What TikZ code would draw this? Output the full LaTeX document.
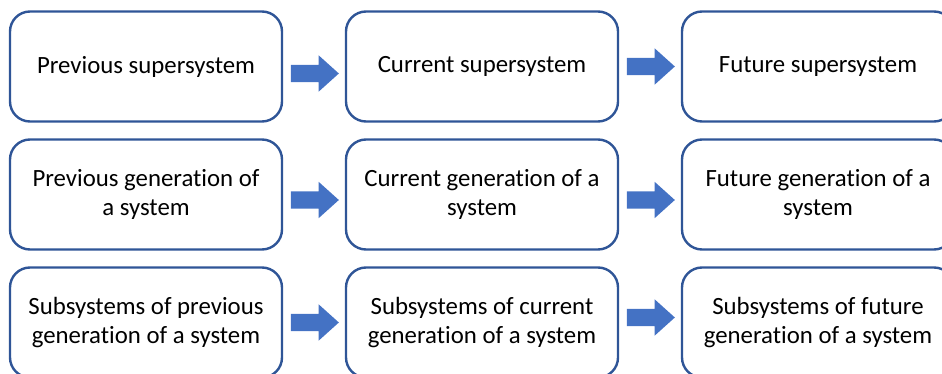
\documentclass[tikz,border=0pt]{standalone}
\usepackage{fontspec}
\setmainfont{Carlito}[Ligatures=NoCommon]
\usetikzlibrary{positioning,calc,shapes.arrows}
\definecolor{boxblue}{HTML}{2F5597}
\definecolor{arrowblue}{HTML}{4472C4}
\tikzset{
    stage/.style={draw=boxblue,line width=2.4pt,rounded corners=20pt,fill=white,
        minimum width=272pt,minimum height=110pt,text width=262pt,align=flush center,
        outer sep=0pt,font=\fontsize{24.8}{29}\selectfont},
    blockarrow/.style={single arrow,fill=arrowblue,draw=none,inner sep=8.5pt,
        minimum height=48pt,single arrow head extend=9.5pt,
        single arrow tip angle=84,xshift=-4pt}
}

\begin{document}
\begin{tikzpicture}[x=1pt,y=-1pt,node distance=18pt and 64pt]
            \useasboundingbox (0,0) rectangle (942,374);
            \clip (0,0) rectangle (942,374);
            % supersystems
            \node[stage] (prevsuper) at (146,66.5) {Previous supersystem};
            \node[stage,right=of prevsuper] (cursuper) {Current supersystem};
            \node[stage,right=of cursuper] (futsuper) {Future supersystem};
            % systems
            \node[stage,below=of prevsuper] (prevsys) {Previous generation of\\ a system};
            \node[stage,below=of cursuper] (cursys) {Current generation of a\\ system};
            \node[stage,below=of futsuper] (futsys) {Future generation of a\\ system};
            % subsystems
            \node[stage,below=of prevsys] (prevsub) {Subsystems of previous\\ generation of a system};
            \node[stage,below=of cursys] (cursub) {Subsystems of current\\ generation of a system};
            \node[stage,below=of futsys] (futsub) {Subsystems of future\\ generation of a system};
            % block arrows
            \node[blockarrow,yshift=-7pt] (supera) at ($(prevsuper.east)!0.5!(cursuper.west)$) {};
            \node[blockarrow] (superb) at ($(cursuper.east)!0.5!(futsuper.west)$) {};
            \node[blockarrow,yshift=-5.5pt] (sysa) at ($(prevsys.east)!0.5!(cursys.west)$) {};
            \node[blockarrow,yshift=-5.5pt] (sysb) at ($(cursys.east)!0.5!(futsys.west)$) {};
            \node[blockarrow] (suba) at ($(prevsub.east)!0.5!(cursub.west)$) {};
            \node[blockarrow,yshift=5pt] (subb) at ($(cursub.east)!0.5!(futsub.west)$) {};
        \end{tikzpicture}
\end{document}
